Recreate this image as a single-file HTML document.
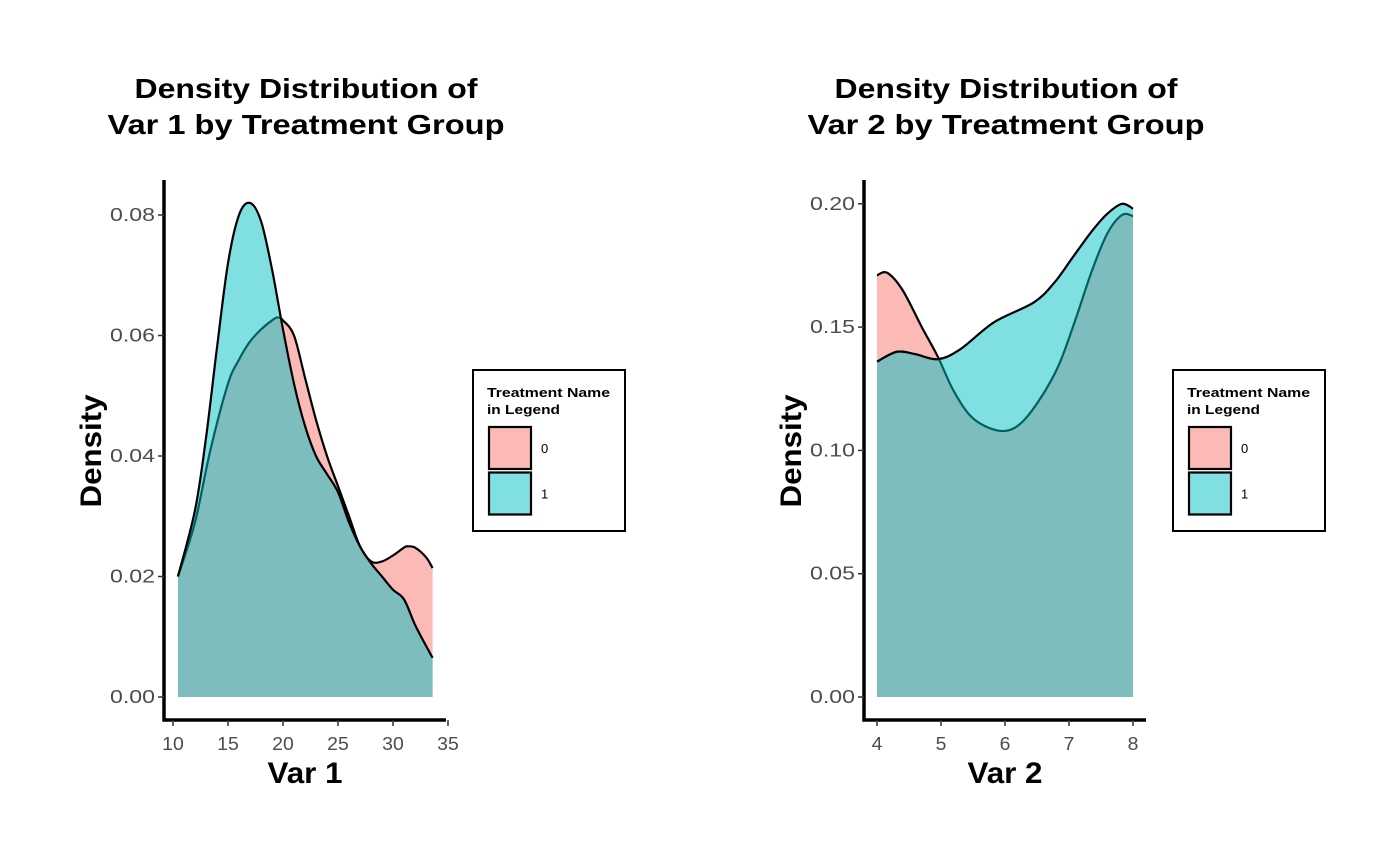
<!DOCTYPE html>
<html><head><meta charset="utf-8"><style>
body{margin:0;background:#fff}
svg{display:block;font-family:"Liberation Sans",Arial,sans-serif}
</style></head><body>
<svg id="chart" width="1400" height="865" viewBox="0 0 1400 865" xmlns="http://www.w3.org/2000/svg"></svg>
<script>
// Panel 1 data (Var 1)
const v1X0 = [10.45,12,13.4,15,16,17,18,19,19.5,20,21,22,23,24,25,26,27,28,29,30,31,31.3,32,33,33.6];
const v1Y0 = [0.020,0.029,0.041,0.052,0.056,0.059,0.061,0.0625,0.063,0.0625,0.060,0.053,0.046,0.040,0.035,0.030,0.025,0.0225,0.0225,0.0235,0.0248,0.025,0.0248,0.0232,0.0214];
const v1X1 = [10.45,12,13,14,15,16,17,18,19,20,21,22,23,24,25,26,27,28,29,30,31,32,33,33.6];
const v1Y1 = [0.020,0.031,0.043,0.058,0.072,0.080,0.082,0.079,0.071,0.061,0.052,0.045,0.040,0.037,0.034,0.029,0.025,0.0222,0.020,0.0178,0.0162,0.012,0.0085,0.0065];
const v1XTicks = [10,15,20,25,30,35];
const v1YTicks = [0,0.02,0.04,0.06,0.08];
// Panel 2 data (Var 2)
const v2X0 = [4.0,4.16,4.4,4.7,4.95,5.2,5.5,5.9,6.2,6.5,6.83,7.1,7.36,7.6,7.83,8.0];
const v2Y0 = [0.171,0.172,0.165,0.150,0.138,0.124,0.113,0.108,0.110,0.119,0.134,0.153,0.173,0.188,0.1955,0.195];
const v2X1 = [4.0,4.31,4.6,4.95,5.3,5.83,6.45,6.77,7.05,7.36,7.6,7.83,8.0];
const v2Y1 = [0.136,0.140,0.139,0.137,0.141,0.152,0.160,0.168,0.178,0.189,0.196,0.200,0.198];
const v2XTicks = [4,5,6,7,8];
const v2YTicks = [0,0.05,0.10,0.15,0.20];
const legendLabels = ["0","1"];

const svg = document.getElementById('chart');
const NS = 'http://www.w3.org/2000/svg';
function mk(tag, attrs, parent){const e=document.createElementNS(NS,tag);for(const k in attrs)e.setAttribute(k,attrs[k]);(parent||svg).appendChild(e);return e;}
function curve(xs,ys,sx,sy){
  const p=xs.map((x,i)=>[sx(x),sy(ys[i])]);
  let d='M'+p[0][0]+','+p[0][1];
  for(let i=0;i<p.length-1;i++){
    const p0=p[Math.max(0,i-1)],p1=p[i],p2=p[i+1],p3=p[Math.min(p.length-1,i+2)];
    const c1=[p1[0]+(p2[0]-p0[0])/6,p1[1]+(p2[1]-p0[1])/6];
    const c2=[p2[0]-(p3[0]-p1[0])/6,p2[1]-(p3[1]-p1[1])/6];
    d+=` C${c1[0]},${c1[1]} ${c2[0]},${c2[1]} ${p2[0]},${p2[1]}`;
  }
  return d;
}
function panel(o){
  const sx=v=>o.x0px+(v-o.xmin)*o.xs, sy=v=>o.y0px-v*o.ys;
  const t=mk('text',{x:o.cx,y:98,'text-anchor':'middle','font-size':28,'font-weight':'bold',fill:'#000'});
  
  mk('tspan',{x:o.cx,dy:0,textLength:343,lengthAdjust:'spacingAndGlyphs'},t).textContent=o.t1;
  mk('tspan',{x:o.cx,dy:36,textLength:397,lengthAdjust:'spacingAndGlyphs'},t).textContent=o.t2;
  const series=[[o.X0,o.Y0,'rgba(248,118,109,0.5)'],[o.X1,o.Y1,'rgba(0,191,196,0.5)']];
  series.forEach((s,i)=>{
    const line=curve(s[0],s[1],sx,sy);
    const last=s[0][s[0].length-1];
    const a=mk('path',{d:line+` L${sx(last)},${sy(0)} L${sx(s[0][0])},${sy(0)} Z`,fill:s[2],stroke:'none'});
    
    const l=mk('path',{d:line,fill:'none',stroke:'#000','stroke-width':2.2});
    
  });
  const ax=mk('path',{d:`M${o.axX},180 V${o.axY} H${o.axEnd}`,fill:'none',stroke:'#000','stroke-width':3.5});
  
  o.xt.forEach(v=>{
    mk('line',{x1:sx(v),x2:sx(v),y1:o.axY,y2:o.axY+6,stroke:'#333','stroke-width':1.5});
    const s=String(v);
    const e=mk('text',{x:sx(v),y:o.axY+30,'text-anchor':'middle','font-size':18,fill:'#4d4d4d',textLength:s.length*10.8,lengthAdjust:'spacingAndGlyphs'});
    
    e.textContent=s;
  });
  o.yt.forEach(v=>{
    mk('line',{x1:o.axX-6,x2:o.axX,y1:sy(v),y2:sy(v),stroke:'#333','stroke-width':1.5});
    const e=mk('text',{x:o.axX-9,y:sy(v)+6,'text-anchor':'end','font-size':18,fill:'#4d4d4d',textLength:45,lengthAdjust:'spacingAndGlyphs'});
    
    e.textContent=v.toFixed(2);
  });
  const xl=mk('text',{x:o.xlx,y:783,'text-anchor':'middle','font-size':30,'font-weight':'bold',textLength:75,lengthAdjust:'spacingAndGlyphs'});
  
  xl.textContent=o.xlab;
  const yl=mk('text',{x:0,y:0,'text-anchor':'middle','font-size':30,'font-weight':'bold',textLength:113,lengthAdjust:'spacingAndGlyphs',transform:`translate(${o.axX-63},451) rotate(-90)`});
  
  yl.textContent='Density';
  // legend
  const g=mk('g',{transform:`translate(${o.lx},370)`});
  
  mk('rect',{x:0,y:0,width:152,height:161,fill:'#fff',stroke:'#000','stroke-width':2},g);
  const lt=mk('text',{x:14,y:27,'font-size':13,'font-weight':'bold'},g);
  
  mk('tspan',{x:14,dy:0,textLength:123,lengthAdjust:'spacingAndGlyphs'},lt).textContent='Treatment Name';
  mk('tspan',{x:14,dy:17,textLength:73,lengthAdjust:'spacingAndGlyphs'},lt).textContent='in Legend';
  const fills=['rgba(248,118,109,0.5)','rgba(0,191,196,0.5)'];
  legendLabels.forEach((lab,i)=>{
    const r=mk('rect',{x:16,y:57+i*45.5,width:42,height:42,fill:fills[i],stroke:'#000','stroke-width':2.2},g);
    
    const tx=mk('text',{x:68,y:83+i*45.5,'font-size':13,fill:'#000'},g);
    
    tx.textContent=lab;
  });
}
panel({id:'var1',cx:306,t1:'Density Distribution of',t2:'Var 1 by Treatment Group',X0:v1X0,Y0:v1Y0,X1:v1X1,Y1:v1Y1,
  xt:v1XTicks,yt:v1YTicks,xmin:10,x0px:173,xs:55/5,y0px:697,ys:120.5/0.02,axX:164,axY:720,axEnd:446,xlab:'Var 1',xlx:305,lx:473});
panel({id:'var2',cx:1006,t1:'Density Distribution of',t2:'Var 2 by Treatment Group',X0:v2X0,Y0:v2Y0,X1:v2X1,Y1:v2Y1,
  xt:v2XTicks,yt:v2YTicks,xmin:4,x0px:877,xs:64,y0px:697,ys:123.3/0.05,axX:864,axY:720,axEnd:1146,xlab:'Var 2',xlx:1005,lx:1173});
</script>
</body></html>
